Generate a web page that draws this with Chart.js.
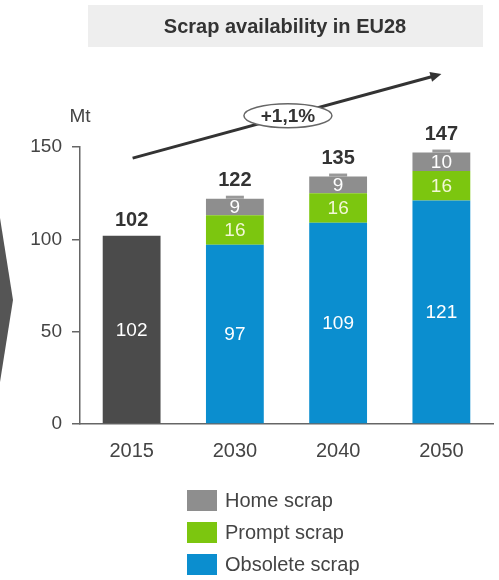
<!DOCTYPE html>
<html>
<head>
<meta charset="utf-8">
<script src="https://cdn.jsdelivr.net/npm/chart.js@4/dist/chart.umd.min.js"></script>
<style>
  html, body { margin: 0; padding: 0; background: #fff; }
  #wrap { position: relative; width: 499px; height: 580px; }
</style>
</head>
<body>
<div id="wrap"><canvas id="c" width="499" height="580"></canvas></div>
<script>
// Scrap availability in EU28 (Mt)
const years = ['2015', '2030', '2040', '2050'];
const obsoleteScrap = [null, 97, 109, 121];
const promptScrap = [null, 16, 16, 16];
const homeScrap = [null, 9, 9, 10];
const total2015 = [102, null, null, null];
const totals = [102, 122, 135, 147];
const yTicks = [0, 50, 100, 150];
const titleText = 'Scrap availability in EU28';
const unitText = 'Mt';
const growthText = '+1,1%';

const FONT = '"Liberation Sans", Arial, sans-serif';
const BLUE = '#0b8ecf';
const GREEN = '#7cc60f';
const GREY = '#8e8e8e';
const DARK = '#4b4b4b';

const datasets = [
  { label: 'Obsolete scrap', data: obsoleteScrap, backgroundColor: BLUE, legend: true, labelColor: '#ffffff' },
  { label: 'Prompt scrap', data: promptScrap, backgroundColor: GREEN, legend: true, labelColor: '#f2f7d6' },
  { label: 'Home scrap', data: homeScrap, backgroundColor: GREY, legend: true, labelColor: '#ffffff' },
  { label: 'Total', data: total2015, backgroundColor: DARK, legend: false, labelColor: '#ffffff' }
];

// Value labels inside segments, totals on top, title, arrow and legend
const decor = {
  id: 'decor',
  afterDatasetsDraw(chart) {
    const ctx = chart.ctx;
    const x = chart.scales.x;
    ctx.save();
    ctx.textAlign = 'center';
    ctx.textBaseline = 'middle';

    // small tab on top of each stacked column
    const homeMeta = chart.getDatasetMeta(2);
    years.forEach((yr, i) => {
      if (homeScrap[i] == null) return;
      const bar = homeMeta.data[i];
      ctx.fillStyle = '#999';
      ctx.fillRect(bar.x - 9, bar.y - 3, 18, 3);
    });

    // segment labels
    chart.data.datasets.forEach((ds, di) => {
      const meta = chart.getDatasetMeta(di);
      meta.data.forEach((bar, i) => {
        const v = ds.data[i];
        if (v == null) return;
        const cy = (bar.y + bar.base) / 2;
        ctx.fillStyle = ds.labelColor;
        ctx.font = '19px ' + FONT;
        ctx.fillText(String(v), bar.x, cy + 1);
      });
    });

    // totals above columns
    totals.forEach((t, i) => {
      let top = Infinity;
      chart.data.datasets.forEach((ds, di) => {
        const bar = chart.getDatasetMeta(di).data[i];
        if (ds.data[i] != null && bar.y < top) top = bar.y;
      });
      const lift = homeScrap[i] == null ? 15 : 18;
      ctx.fillStyle = '#333';
      ctx.font = 'bold 20px ' + FONT;
      ctx.fillText(String(t), x.getPixelForValue(i), top - lift);
    });
    ctx.restore();
  },
  afterDraw(chart) {
    const ctx = chart.ctx;
    const x = chart.scales.x, y = chart.scales.y;
    ctx.save();

    // title box
    ctx.fillStyle = '#eeeeee';
    ctx.fillRect(88, 5, 395, 42);
    ctx.fillStyle = '#333';
    ctx.font = 'bold 20px ' + FONT;
    ctx.textAlign = 'center';
    ctx.textBaseline = 'middle';
    ctx.fillText(titleText, 285, 27);

    // unit
    ctx.fillStyle = '#444';
    ctx.font = '19px ' + FONT;
    ctx.textAlign = 'center';
    ctx.fillText(unitText, 80, 117);

    // chevron from the neighbouring panel
    ctx.fillStyle = '#555';
    ctx.beginPath();
    ctx.moveTo(0, 218);
    ctx.lineTo(13, 300);
    ctx.lineTo(0, 382);
    ctx.closePath();
    ctx.fill();

    // growth arrow
    const x0 = x.getPixelForValue(0) + 1, y0 = y.getPixelForValue(144);
    const x1 = x.getPixelForValue(3), y1 = y.getPixelForValue(189.5);
    ctx.strokeStyle = '#333';
    ctx.lineWidth = 3;
    ctx.beginPath();
    ctx.moveTo(x0, y0);
    ctx.lineTo(x1 - 8, y1 + 2.2);
    ctx.stroke();
    const ang = Math.atan2(y1 - y0, x1 - x0);
    ctx.fillStyle = '#333';
    ctx.beginPath();
    ctx.moveTo(x1, y1);
    ctx.lineTo(x1 - 11 * Math.cos(ang) + 5 * Math.sin(ang), y1 - 11 * Math.sin(ang) - 5 * Math.cos(ang));
    ctx.lineTo(x1 - 11 * Math.cos(ang) - 5 * Math.sin(ang), y1 - 11 * Math.sin(ang) + 5 * Math.cos(ang));
    ctx.closePath();
    ctx.fill();

    const t = 0.503;
    const ex = x0 + (x1 - x0) * t, ey = y0 + (y1 - y0) * t;
    ctx.fillStyle = '#fff';
    ctx.strokeStyle = '#666';
    ctx.lineWidth = 1.5;
    ctx.beginPath();
    ctx.ellipse(ex, ey, 44, 12, 0, 0, Math.PI * 2);
    ctx.fill();
    ctx.stroke();
    ctx.fillStyle = '#333';
    ctx.font = 'bold 19px ' + FONT;
    ctx.textAlign = 'center';
    ctx.fillText(growthText, ex, ey + 1);

    // legend (vertical, top to bottom)
    const items = chart.data.datasets.filter(d => d.legend).slice().reverse();
    items.forEach((d, k) => {
      const top = 490 + k * 32;
      ctx.fillStyle = d.backgroundColor;
      ctx.fillRect(187, top, 30, 21);
      ctx.fillStyle = '#444';
      ctx.font = '20px ' + FONT;
      ctx.textAlign = 'left';
      ctx.textBaseline = 'middle';
      ctx.fillText(d.label, 225, top + 11);
    });
    ctx.restore();
  }
};

new Chart(document.getElementById('c'), {
  type: 'bar',
  data: { labels: years, datasets },
  options: {
    responsive: false,
    animation: false,
    devicePixelRatio: 1,
    layout: { padding: { top: 147, right: 6, bottom: 116, left: 0 } },
    datasets: { bar: { barPercentage: 0.56, categoryPercentage: 1, skipNull: true } },
    plugins: { legend: { display: false }, tooltip: { enabled: false }, title: { display: false } },
    scales: {
      x: {
        stacked: true,
        grid: { display: false, drawTicks: false },
        border: { display: true, color: '#666', width: 1.5 },
        ticks: { color: '#444', font: { family: FONT, size: 20 }, padding: 15 },
        afterFit(s) { s.height = 40; }
      },
      y: {
        stacked: true,
        min: 0, max: 150,
        afterBuildTicks(s) { s.ticks = yTicks.map(v => ({ value: v })); },
        grid: { drawOnChartArea: false, drawTicks: true, tickLength: 8, color: '#666', lineWidth: 1.5 },
        border: { display: true, color: '#666', width: 1.5 },
        ticks: { color: '#444', font: { family: FONT, size: 19 }, padding: 10 },
        afterFit(s) { s.width = 80; }
      }
    }
  },
  plugins: [decor]
});
</script>
</body>
</html>
